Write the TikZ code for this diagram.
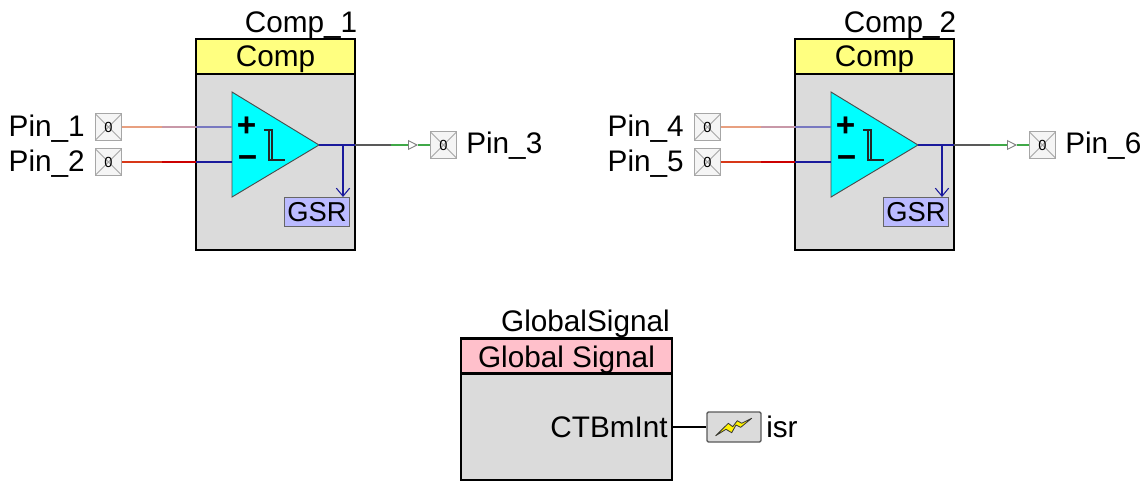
\documentclass[tikz,border=0pt]{standalone}
\usepackage{fontspec}
\setmainfont{Liberation Sans}
\usetikzlibrary{positioning,arrows.meta,calc}
\definecolor{bodygray}{HTML}{DBDBDB}
\definecolor{headyellow}{HTML}{FFFF80}
\definecolor{headpink}{HTML}{FFC0CB}
\definecolor{gsrblue}{HTML}{BBBBFF}
\definecolor{wireblue}{HTML}{1A1A9C}
\definecolor{compcyan}{HTML}{00FFFF}
\definecolor{wirelilac}{HTML}{7878C0}
\definecolor{wiremauve}{HTML}{C898A8}
\definecolor{wiresalmon}{HTML}{E8A080}
\definecolor{wirered}{HTML}{D83818}
\definecolor{wiregreen}{HTML}{40A848}
\begin{document}
\begin{tikzpicture}[
  x=0.75pt,y=-0.75pt,
  label/.style={font=\fontsize{22.3}{24}\selectfont,inner sep=0pt},
  body/.style={rectangle,draw,line width=1.9pt,fill=bodygray,inner sep=0pt},
  head/.style={rectangle,draw,line width=1.9pt,inner sep=0pt},
  pinbox/.style={rectangle,draw=gray!70,line width=0.9pt,fill=gray!8,minimum size=20pt,inner sep=0pt,
    font=\fontsize{11}{11}\selectfont,
    path picture={\draw[gray!70,line width=0.6pt]
      (path picture bounding box.north west) -- (path picture bounding box.south east)
      (path picture bounding box.south west) -- (path picture bounding box.north east);}},
  gsrbox/.style={rectangle,draw=black!60,line width=0.8pt,fill=gsrblue,minimum width=48.5pt,minimum height=22pt,
    inner sep=0pt,font=\fontsize{20.5}{21}\selectfont},
  sign/.style={inner sep=0pt,font=\fontsize{25}{25}\selectfont\bfseries},
  wire/.style={line width=0.8pt}
]
  \useasboundingbox (0,0) rectangle (1146,481);

  % ---------- two comparators ----------
  \foreach \dx/\n/\pa/\pb/\pc in {0/1/1/2/3,599/2/4/5/6} {
    \begin{scope}[xshift=\dx*0.75pt]
      \node[body,minimum width=119pt,minimum height=158pt] (box\n) at (275.5,144.5) {};
      \node[head,fill=headyellow,minimum width=119pt,minimum height=26pt] (head\n) at (275.5,56.5) {};
      \node[label,anchor=base] (title\n) at (275.5,67) {Comp};
      \node[label,anchor=base east] (name\n) at (357.5,33) {Comp\_\n};

      % triangle with its ports
      \draw[fill=compcyan,draw=black!70,line width=0.7pt] (232,92) -- (319,145) -- (232,197) -- cycle;
      \coordinate (inp\n) at (232,127);
      \coordinate (inm\n) at (232,162);
      \coordinate (out\n) at (319,145);
      \node[sign] (plus\n) at (246.5,127) {+};
      \node[sign] (minus\n) at (247.5,162) {\char"2212};
      \draw[black!85,line width=0.8pt] (264,130) -- (272,130) -- (272,160) -- (285,160)
        (269,130) -- (269,160) -- (272,160);

      \node[gsrbox] (gsr\n) at (317,212) {GSR};

      % pins
      \node[pinbox] (pin\pa) at (108.5,127) {0};
      \node[pinbox] (pin\pb) at (108.5,162) {0};
      \node[pinbox] (pin\pc) at (443.5,145) {0};
      \node[label,anchor=base east] (lab\pa) at (85,137) {Pin\_\pa};
      \node[label,anchor=base east] (lab\pb) at (85,172) {Pin\_\pb};
      \node[label,anchor=base west] (lab\pc) at (466,154) {Pin\_\pc};

      % input wires change colour on the way
      \coordinate (am\n) at (162,127);
      \coordinate (ae\n) at (196,127);
      \coordinate (bm\n) at (162,162);
      \coordinate (be\n) at (196,162);
      \draw[wire,wiresalmon] (pin\pa) -- (am\n);
      \draw[wire,wiremauve] (am\n) -- (ae\n);
      \draw[wire,wirelilac] (ae\n) -- (inp\n);
      \draw[wire,wirered] (pin\pb) -- (bm\n);
      \draw[wire,red!80!black] (bm\n) -- (be\n);
      \draw[wire,wireblue] (be\n) -- (inm\n);

      % output wire
      \coordinate (tap\n) at (343,145);
      \coordinate (oe\n) at (355,145);
      \coordinate (om\n) at (391,145);
      \coordinate (tipa\n) at (408,145);
      \coordinate (tipb\n) at (418,145);
      \coordinate (gsrtop\n) at (343,197);
      \draw[wire,wireblue] (out\n) -- (oe\n);
      \draw[wire,black!65] (oe\n) -- (om\n);
      \draw[wire,wiregreen] (om\n) -- (tipa\n);
      \draw[wire,wiregreen] (tipb\n) -- (pin\pc);
      \draw[line width=0.7pt,gray,-{Triangle[open,fill=white,length=7.5pt,width=7.5pt]}] (tipa\n) -- (tipb\n);
      \draw[wire,wireblue,-{Straight Barb[length=6pt,width=10pt]}] (tap\n) -- (gsrtop\n);
    \end{scope}
  }

  % ---------- global signal ----------
  \node[body,minimum width=158pt,minimum height=106.5pt] (gbox) at (566.5,409) {};
  \node[head,fill=headpink,minimum width=158pt,minimum height=26pt] (ghead) at (566.5,356) {};
  \node[label,anchor=base] (gtitle) at (566.5,367) {Global Signal};
  \node[label,anchor=base east] (gname) at (670,331) {GlobalSignal};
  \node[label,anchor=base east] (gport) at (668,437) {CTBmInt};
  \node[rectangle,draw=black!65,line width=1.1pt,rounded corners=1pt,fill=bodygray,minimum width=40.5pt,minimum height=22.5pt] (isrbox) at (734,427) {};
  \node[label,anchor=base west] (isrlab) at (766,437) {isr};
  \draw[line width=0.8pt] (gbox.east |- isrbox) -- (isrbox);
  \draw[fill=yellow,draw=black!80,line width=0.6pt,line join=round]
    (715.7,435.7) -- (728.3,423.3) -- (732.7,426.7) -- (737.3,420.7) -- (741.7,423.3) -- (751.7,418.3)
    -- (740.7,427.3) -- (736,425) -- (731.7,432.7) -- (726,429.3) -- cycle;
\end{tikzpicture}
\end{document}
